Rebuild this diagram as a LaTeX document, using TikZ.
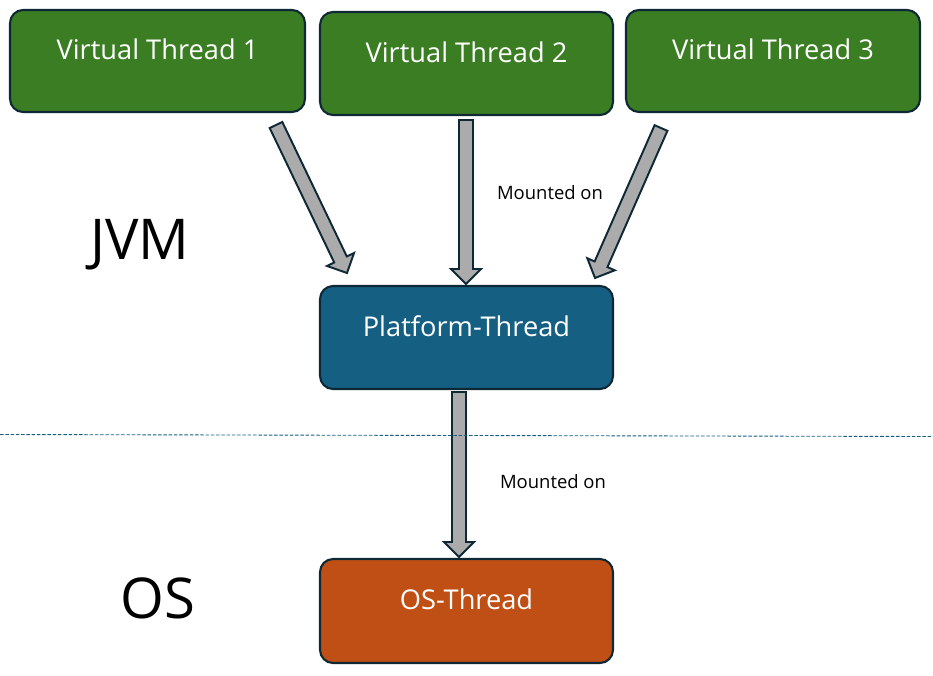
\documentclass[tikz,border=0pt]{standalone}
\usepackage{fontspec}
\setmainfont{Open Sans}
\usepackage{xcolor}
\definecolor{vtgreen}{HTML}{3B7D23}
\definecolor{ptblue}{HTML}{156082}
\definecolor{osorange}{HTML}{C04F15}
\definecolor{edgedark}{HTML}{0E2836}
\definecolor{arrowgray}{HTML}{ABABAB}
\usetikzlibrary{calc}

\tikzset{
  threadbox/.style={draw=edgedark, line width=1.2pt, rounded corners=0.26cm,
    text=white, font=\fontsize{15.5}{18}\selectfont,
    text height=0.4cm, text depth=0.45cm, inner sep=0pt},
  mountarrow/.style={draw=edgedark, fill=arrowgray, line width=1.1pt, line join=miter},
  mountlabel/.style={font=\fontsize{10.5}{12}\selectfont, text=black},
  layerlabel/.style={font=\fontsize{32}{36}\selectfont, text=black},
  sepline/.style={draw=ptblue, line width=0.5pt, dash pattern=on 2pt off 1pt}
}

% block arrow from #1 to the tip #2
\newcommand{\blockarrow}[2]{%
  \coordinate (neck) at ($(#2)!0.3cm!(#1)$);
  \draw[mountarrow] ($(#1)!0.14cm!90:(#2)$) -- ($(neck)!0.14cm!90:(#2)$)
    -- ($(neck)!0.3cm!90:(#2)$) -- (#2) -- ($(neck)!0.3cm!-90:(#2)$)
    -- ($(neck)!0.14cm!-90:(#2)$) -- ($(#1)!0.14cm!-90:(#2)$) -- cycle;
}

\begin{document}
\begin{tikzpicture}[x=0.02cm, y=-0.02cm]
\useasboundingbox (0,0) rectangle (933,676);

% --- Virtual threads ---
\node[threadbox, fill=vtgreen, minimum width=5.9cm, minimum height=2.04cm]
      (vt1) at (157.5,61) {Virtual Thread 1};
\node[threadbox, fill=vtgreen, minimum width=5.86cm, minimum height=2.06cm]
      (vt2) at (466.5,63.5) {Virtual Thread 2};
\node[threadbox, fill=vtgreen, minimum width=5.88cm, minimum height=2.04cm]
      (vt3) at (773,61) {Virtual Thread 3};

% --- Platform and OS thread ---
\node[threadbox, fill=ptblue, minimum width=5.86cm, minimum height=2.06cm]
      (pt) at (466.5,337.5) {Platform-Thread};
\node[threadbox, fill=osorange, minimum width=5.86cm, minimum height=2.08cm]
      (os) at (466.5,611) {OS-Thread};

% --- Arrow ends ---
\coordinate (vt1out) at (276,125);
\coordinate (pt1in) at (347,273);
\coordinate (vt2out) at (466,120);
\coordinate (pt2in) at (466,284);
\coordinate (vt3out) at (661,128);
\coordinate (pt3in) at (595,278);
\coordinate (ptout) at (459,392);
\coordinate (osin) at (459,557);

\blockarrow{vt1out}{pt1in}
\blockarrow{vt2out}{pt2in}
\blockarrow{vt3out}{pt3in}
\blockarrow{ptout}{osin}

% --- Labels ---
\node[mountlabel] (mount1) at (550,193) {Mounted on};
\node[mountlabel] (mount2) at (553,482) {Mounted on};
\node[layerlabel] (jvm) at (140,245) {JVM};
\node[layerlabel] (oslabel) at (158,598) {OS};

% JVM / OS border
\coordinate (sepleft) at (0,434.5);
\coordinate (sepright) at (933,436.5);
\draw[sepline] (sepleft) -- (sepright);

\end{tikzpicture}
\end{document}
